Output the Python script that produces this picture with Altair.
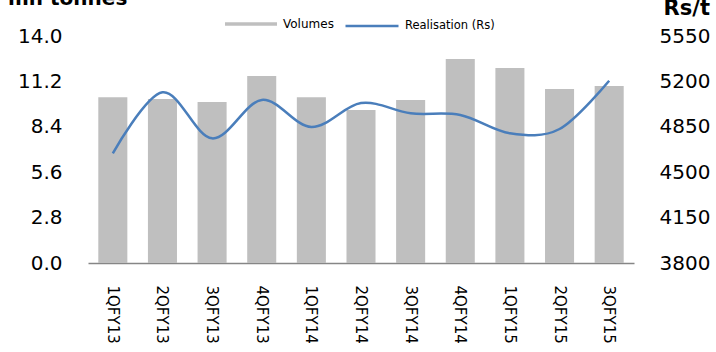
import altair as alt
import pandas as pd

quarters = ["1QFY13", "2QFY13", "3QFY13", "4QFY13", "1QFY14", "2QFY14",
            "3QFY14", "4QFY14", "1QFY15", "2QFY15", "3QFY15"]
volumes = [10.22, 10.12, 9.93, 11.54, 10.22, 9.44, 10.06, 12.58, 12.03, 10.73, 10.92]
realisation = [4646, 5116, 4761, 5057, 4848, 5033, 4954, 4941, 4800, 4833, 5205]

left_ticks = [0.0, 2.8, 5.6, 8.4, 11.2, 14.0]
right_ticks = [3800, 4150, 4500, 4850, 5200, 5550]

df = pd.DataFrame({
    "quarter": quarters,
    "volume": volumes,
    "realisation": realisation,
    "s1": ["Volumes"] * len(quarters),
    "s2": ["Realisation (Rs)"] * len(quarters),
})

FONT = "DejaVu Sans"

x_enc = alt.X(
    "quarter:N", sort=quarters, title=None,
    scale=alt.Scale(paddingInner=0.415, paddingOuter=0.2075),
    axis=alt.Axis(labelAngle=90, labelAlign="left", labelBaseline="middle",
                  labelPadding=22, labelFontSize=15, labelFont=FONT,
                  labelColor="#000000", ticks=False, domain=True,
                  domainColor="#868686", domainWidth=1.5, grid=False),
)

bars = alt.Chart(df).mark_bar(color="#BFBFBF").encode(
    x=x_enc,
    y=alt.Y("volume:Q", title=None,
            scale=alt.Scale(domain=[0, 14], nice=False, zero=True),
            axis=alt.Axis(values=left_ticks, format=".1f", labelFontSize=20,
                          labelFont=FONT, labelColor="#000000", labelPadding=26,
                          ticks=False, domain=False, grid=False, orient="left")),
    color=alt.Color("s1:N", title=None,
                    scale=alt.Scale(range=["#BFBFBF"]),
                    legend=alt.Legend(orient="none", legendX=137, legendY=-38,
                                      symbolType="M-1,-0.067H1V0.067H-1Z",
                                      symbolSize=2704, symbolStrokeWidth=0,
                                      labelFont=FONT, labelFontSize=12,
                                      labelOffset=6, padding=0,
                                      labelColor="#000000")),
)

line = alt.Chart(df).mark_line(interpolate="cardinal", strokeWidth=2.5).encode(
    x=alt.X("quarter:N", sort=quarters),
    y=alt.Y("realisation:Q", title=None,
            scale=alt.Scale(domain=[3800, 5550], nice=False, zero=False),
            axis=alt.Axis(values=right_ticks, format="d", labelFontSize=20,
                          labelFont=FONT, labelColor="#000000", labelPadding=25,
                          ticks=False, domain=False, grid=False, orient="right")),
    stroke=alt.Stroke("s2:N", title=None,
                      scale=alt.Scale(range=["#4A7EBB"]),
                      legend=alt.Legend(orient="none", legendX=256, legendY=-38,
                                        symbolType="stroke", symbolSize=2809,
                                        symbolStrokeWidth=2.5,
                                        labelFont=FONT, labelFontSize=11.5,
                                        labelOffset=5, padding=0,
                                        labelColor="#000000")),
)

lt = alt.Chart(pd.DataFrame({"t": ["mn tonnes"]})).mark_text(
    font=FONT, fontSize=20, fontWeight="bold", align="left", baseline="alphabetic",
    color="#000000"
).encode(text="t:N", x=alt.value(-80), y=alt.value(-31))

rt = alt.Chart(pd.DataFrame({"t": ["Rs/t"]})).mark_text(
    font=FONT, fontSize=21, fontWeight="bold", align="right", baseline="alphabetic",
    color="#000000"
).encode(text="t:N", x=alt.value(622), y=alt.value(-21))

chart = alt.layer(bars, line, lt, rt).resolve_scale(
    y="independent", color="independent", stroke="independent"
).properties(
    width=546, height=227,
    padding={"left": 88, "top": 36, "right": 82, "bottom": 89},
    autosize=alt.AutoSizeParams(type="none"),
    background="white",
).configure_view(strokeWidth=0, strokeOpacity=0)

chart.save("out.html", embed_options={"renderer": "svg", "actions": False})
